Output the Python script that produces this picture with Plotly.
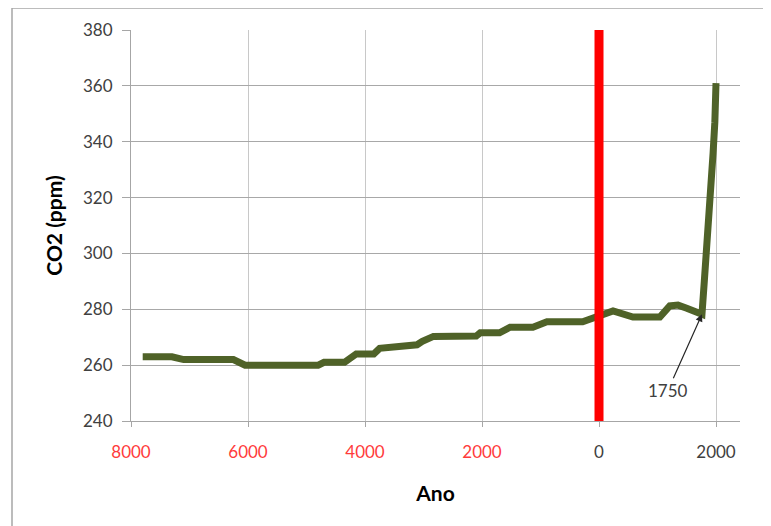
import plotly.graph_objects as go

# Data (year: negative = BC)
years = [-7800, -7300, -7100, -6250, -6050, -4800, -4700, -4350, -4150, -3850,
         -3750, -3400, -3280, -3110, -3020, -2920, -2830, -2100, -2030, -1700,
         -1520, -1130, -890, -280, -40, 240, 580, 1040, 1210, 1350,
         1500, 1720, 1760, 1800, 1850, 1900, 1950, 1980, 2000]
co2 = [263, 263, 262, 262, 260, 260, 261, 261, 264, 264,
       266, 266.5, 267.3, 267.3, 268.5, 269.3, 270.3, 270.4, 271.6, 271.6,
       273.6, 273.6, 275.5, 275.5, 277.3, 279.4, 277.2, 277.2, 281.2, 281.5,
       280.4, 278.5, 278.2, 290, 303, 320, 336, 347, 361]

tick_vals = [-8000, -6000, -4000, -2000, 0, 2000]
tick_labels = ["8000", "6000", "4000", "2000", "0", "2000"]
tick_colors = ["#ff3b3b", "#ff3b3b", "#ff3b3b", "#ff3b3b", "#404040", "#404040"]

divider_year = [0, 0]
divider_co2 = [240, 380]

annot_year = 1760
annot_co2 = 278.2
annot_text = "1750"

FONT = "Lato"
W, H = 763, 518  # page body adds an 8px margin

fig = go.Figure()
fig.add_trace(go.Scatter(x=years, y=co2, mode="lines",
                         line=dict(color="#4f6228", width=7),
                         showlegend=False, hoverinfo="skip"))
fig.add_trace(go.Scatter(x=divider_year, y=divider_co2, mode="lines",
                         line=dict(color="#ff0000", width=9),
                         showlegend=False, hoverinfo="skip"))

ticktext = [f'<span style="color:{c}">{t}</span>' for t, c in zip(tick_labels, tick_colors)]

L, R, T, B = 123, 31, 22, 105
pw = W - L - R
ph = H - T - B

fig.update_layout(
    width=W, height=H,
    margin=dict(l=L, r=R, t=T, b=B),
    paper_bgcolor="white", plot_bgcolor="white",
    font=dict(family=FONT, size=17, color="#404040"),
    xaxis=dict(range=[-8000, 2410], tickmode="array", tickvals=tick_vals,
               ticktext=ticktext, showgrid=True, gridcolor="#c8c8c8", gridwidth=1,
               zeroline=False, showline=True, linecolor="#a6a6a6", linewidth=1,
               ticks="outside", ticklen=5, tickcolor="#a6a6a6",
               ticklabelstandoff=11,
               tickfont=dict(family=FONT, size=17),
               title=dict(text="<b>Ano</b>", font=dict(family=FONT, size=21, color="#000000"),
                          standoff=24)),
    yaxis=dict(range=[240, 380], dtick=20, tick0=240, showgrid=True,
               gridcolor="#a8a8a8", gridwidth=1, zeroline=False,
               showline=True, linecolor="#a6a6a6", linewidth=1,
               ticks="outside", ticklen=8, tickcolor="#a6a6a6",
               ticklabelstandoff=6,
               tickfont=dict(family=FONT, size=17, color="#404040"),
               title=dict(text="<b>CO2 (ppm)</b>", font=dict(family=FONT, size=21, color="#000000"),
                          standoff=14)),
    annotations=[dict(x=annot_year, y=annot_co2, xref="x", yref="y", text=annot_text,
                      showarrow=True, ax=-34, ay=76, arrowhead=2, arrowsize=1.2,
                      arrowwidth=1.2, arrowcolor="#262626",
                      font=dict(family=FONT, size=17, color="#404040"))],
    shapes=[dict(type="rect", xref="paper", yref="paper",
                 x0=(4 - L) / pw, x1=(780 - L) / pw,
                 y0=-0.4, y1=1 + (T - 0) / ph,
                 line=dict(color="#a6a6a6", width=1.5), layer="below")],
)

fig.write_html("out.html")
